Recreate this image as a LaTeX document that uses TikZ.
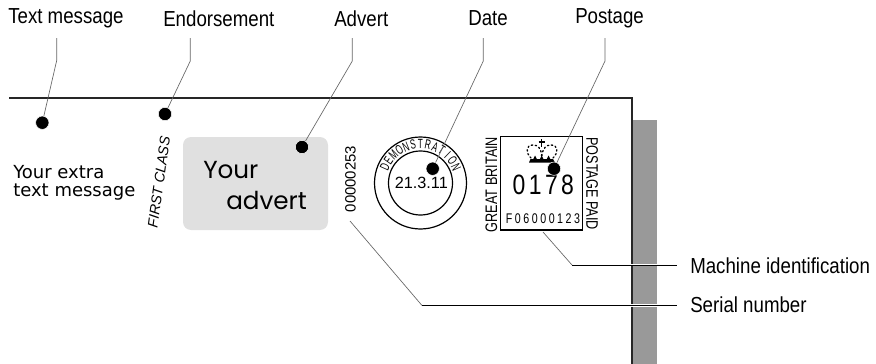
\documentclass[tikz,border=0pt]{standalone}
\usepackage{fontspec}
\setmainfont{Liberation Sans}
\newfontfamily\lblfont[FakeStretch=0.86]{Liberation Sans}
\newfontfamily\condfont[FakeStretch=0.76]{Liberation Sans}
\newfontfamily\arcfont[FakeStretch=0.62]{Liberation Sans}
\newfontfamily\numfont[FakeStretch=0.82]{Liberation Sans}
\newfontfamily\msgfont{DejaVu Sans}
\newfontfamily\advfont{Poppins}
\begin{document}
\begin{tikzpicture}[x=0.75pt,y=-0.75pt,
  lbl/.style={inner sep=0,font=\lblfont\fontsize{16.3}{18}\selectfont},
  leader/.style={draw=black!60,line width=0.5pt},
  hline/.style={draw=black,line width=0.7pt},
  halo/.style={draw=white,line width=2.2pt},
  bullet/.style={circle,fill=black,draw=white,line width=0.4pt,minimum size=10pt,inner sep=0},
  rot/.style={inner sep=0,rotate=90,font=\condfont\fontsize{12.5}{14}\selectfont},
  rotb/.style={inner sep=0,rotate=-90,font=\condfont\fontsize{12.5}{14}\selectfont},
  arcl/.style={inner sep=0,font=\arcfont\fontsize{10}{11}\selectfont},
  advtxt/.style={anchor=west,inner sep=0,font=\advfont\fontsize{18.5}{22}\selectfont},
  msgtxt/.style={anchor=west,inner sep=0,font=\msgfont\fontsize{13.5}{16}\selectfont}]
\useasboundingbox (0,0) rectangle (876,364);
\fill[black!40] (633,120) rectangle (657,364);
\draw[line width=1.4pt,black!85] (9,98.3) -- (631.7,98.3) -- (631.7,364);
% advert
\fill[black!12,rounded corners=6pt] (183,137) rectangle (328,230);
\node[advtxt] (yr) at (203,170) {Your};
\node[advtxt] (ad) at (226,200) {advert};
% message
\node[msgtxt] (m1) at (13,172) {Your extra};
\node[msgtxt] (m2) at (13,192) {text message};
\node[rotate=82,inner sep=0,font=\fontsize{10.7}{12}\selectfont\itshape] (fc) at (159,182) {FIRST CLASS};
\node[inner sep=0,rotate=90,font=\fontsize{11.2}{13}\selectfont] (ser) at (350.5,179) {00000253};
% postmark
\node[draw,circle,line width=0.9pt,minimum size=69pt,inner sep=0] (pm) at (420.5,183) {};
\node[draw,circle,line width=0.9pt,minimum size=48pt,inner sep=0] (pi) at (420.5,183) {};
\foreach \c [count=\i] in {D,E,M,O,N,S,T,R,A,T,I,O,N}{
  \pgfmathsetmacro\a{-66+(\i-1)*11}
  \node[arcl,rotate=-\a] (c\i) at ({420.5+39*sin(\a)},{183-39*cos(\a)}) {\c};
}
\node[inner sep=0,font=\fontsize{12.2}{14}\selectfont] (dt) at (421.3,182.5) {21.3.11};
% stamp
\node[draw,line width=1.1pt,minimum width=61.5pt,minimum height=70pt,inner sep=0] (st) at (541.7,183.4) {};
\node[rot] (gb) at (491.5,184.5) {GREAT BRITAIN};
\node[rotb] (pp) at (592,183.5) {POSTAGE PAID};
\node[inner sep=0,font=\numfont\fontsize{21}{24}\selectfont] (num) at (543.3,185) {0\hspace{2.6pt}1\hspace{2.6pt}7\hspace{2.6pt}8};
\node[inner sep=0,font=\condfont\fontsize{10.5}{12}\selectfont] (ser2) at (543,219) {F\hspace{1.9pt}0\hspace{1.9pt}6\hspace{1.9pt}0\hspace{1.9pt}0\hspace{1.9pt}0\hspace{1.9pt}1\hspace{1.9pt}2\hspace{1.9pt}3};
% crown
\draw[dotted,line width=1pt,line cap=round] (531,158) .. controls (525,152) and (526,145) .. (533,145) .. controls (538,145) and (541,148) .. (541.7,156);
\draw[dotted,line width=1pt,line cap=round] (553,158) .. controls (559,152) and (558,145) .. (551,145) .. controls (546,145) and (543,148) .. (541.7,156);
\draw[line width=0.9pt] (541.7,139) -- (541.7,147) (538.7,142) -- (544.7,142);
\fill (529,162.5) -- (555,162.5) -- (553,159) -- (530.5,159) -- cycle;
\fill (533,159.5) -- (535,155.5) -- (537,159.5) -- cycle;
\fill (539.7,159.5) -- (541.7,155.5) -- (543.7,159.5) -- cycle;
\fill (546.5,159.5) -- (548.5,155.5) -- (550.5,159.5) -- cycle;
% labels
\node[lbl,anchor=west] (a1) at (8,18.5) {Text message};
\node[lbl,anchor=west] (a2) at (163,18.5) {Endorsement};
\node[lbl,anchor=west] (a3) at (334,18.5) {Advert};
\node[lbl,anchor=west] (a4) at (468,18.5) {Date};
\node[lbl,anchor=west] (a5) at (575,18.5) {Postage};
\node[lbl,anchor=west] (a6) at (690,265.5) {Machine identification};
\node[lbl,anchor=west] (a7) at (690,305) {Serial number};
% bullets
\node[bullet] (b1) at (42.3,122.7) {};
\node[bullet] (b2) at (165,114) {};
\node[bullet] (b3) at (302,147) {};
\node[bullet] (b4) at (432.7,168.7) {};
\node[bullet] (b5) at (554,168.7) {};
\coordinate (t1) at (56.7,38); \coordinate (k1) at (56.7,60.5);
\coordinate (t2) at (190.3,38); \coordinate (k2) at (190.3,61);
\coordinate (t3) at (352.3,38); \coordinate (k3) at (352.3,61);
\coordinate (t4) at (483.3,38); \coordinate (k4) at (483.3,61);
\coordinate (t5) at (605,38); \coordinate (k5) at (605,61);
\coordinate (s6) at (543,232); \coordinate (k6) at (572,265);
\coordinate (s7) at (350,221); \coordinate (k7) at (422,305.5);
\coordinate (e6) at (677,265);
\coordinate (e7) at (677,305.5);
\draw[leader] (t1) -- (k1) -- (b1);
\draw[leader] (t2) -- (k2) -- (b2);
\draw[leader] (t3) -- (k3) -- (b3);
\draw[leader] (t4) -- (k4) -- (b4);
\draw[leader] (t5) -- (k5) -- (b5);
\draw[halo] (k6) -- (e6);
\draw[halo] (k7) -- (e7);
\draw[leader] (s6) -- (k6);
\draw[leader] (s7) -- (k7);
\draw[hline] (k6) -- (e6);
\draw[hline] (k7) -- (e7);
\end{tikzpicture}
\end{document}
